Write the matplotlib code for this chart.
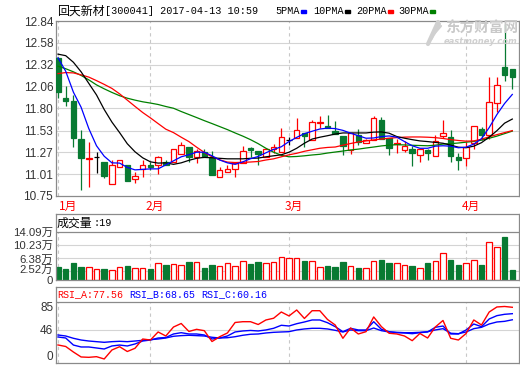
import matplotlib
matplotlib.use("Agg")
import matplotlib.pyplot as plt
from matplotlib.patches import Rectangle
from matplotlib.transforms import ScaledTranslation

# data
# ====================================
stock = "回天新材"
stamp = "[300041] 2017-04-13 10:59"
months = ["1月", "2月", "3月", "4月"]
month_idx = [0, 12, 30, 53]

open_ = [12.40, 11.915, 11.88, 11.43, 11.195, 11.215, 11.155, 10.89, 11.095, 11.12,
         10.957, 11.074, 11.125, 11.12, 11.155, 11.162, 11.25, 11.335, 11.215, 11.275,
         11.215, 10.982, 11.042, 11.074, 11.143, 11.32, 11.282, 11.215, 11.315, 11.27,
         11.414, 11.443, 11.503, 11.414, 11.625, 11.59, 11.523, 11.47, 11.302, 11.483,
         11.383, 11.423, 11.663, 11.443, 11.375, 11.302, 11.31, 11.243, 11.302, 11.23,
         11.47, 11.455, 11.215, 11.202, 11.383, 11.555, 11.483, 11.863, 12.296, 12.263]
high = [12.41, 12.06, 11.96, 11.54, 11.395, 11.27, 11.16, 11.18, 11.18, 11.12,
        11.04, 11.18, 11.16, 11.23, 11.18, 11.31, 11.395, 11.335, 11.31, 11.31,
        11.282, 11.10, 11.12, 11.162, 11.342, 11.335, 11.29, 11.32, 11.375, 11.563,
        11.45, 11.683, 11.503, 11.655, 11.71, 11.723, 11.643, 11.47, 11.503, 11.551,
        11.43, 11.70, 11.69, 11.443, 11.43, 11.402, 11.342, 11.31, 11.31, 11.483,
        11.663, 11.543, 11.263, 11.39, 11.59, 11.575, 12.176, 12.176, 12.804, 12.263]
low = [11.92, 11.82, 11.34, 10.82, 10.86, 11.03, 10.96, 10.89, 11.095, 10.93,
       10.91, 10.98, 11.06, 11.015, 11.12, 11.162, 11.25, 11.16, 11.143, 11.22,
       11.0, 10.982, 11.042, 10.98, 11.143, 11.215, 11.122, 11.215, 11.263, 11.27,
       11.36, 11.443, 11.33, 11.414, 11.563, 11.558, 11.491, 11.234, 11.25, 11.362,
       11.383, 11.423, 11.43, 11.243, 11.26, 11.27, 11.114, 11.162, 11.18, 11.23,
       11.443, 11.162, 11.062, 11.11, 11.31, 11.423, 11.43, 11.75, 12.123, 12.03]
close = [11.99, 11.88, 11.44, 11.20, 11.205, 11.215, 10.99, 11.12, 11.18, 10.935,
         10.99, 11.122, 11.095, 11.215, 11.126, 11.31, 11.355, 11.215, 11.283, 11.22,
         11.002, 11.062, 11.07, 11.15, 11.29, 11.30, 11.25, 11.31, 11.33, 11.455,
         11.414, 11.535, 11.462, 11.63, 11.635, 11.558, 11.491, 11.342, 11.503, 11.39,
         11.423, 11.683, 11.43, 11.323, 11.385, 11.35, 11.263, 11.31, 11.263, 11.402,
         11.503, 11.222, 11.183, 11.33, 11.59, 11.483, 11.87, 12.08, 12.191, 12.176]

ma5 = [12.40, 12.24, 11.99, 11.81, 11.555, 11.35, 11.225, 11.146, 11.143, 11.092,
       11.062, 11.068, 11.074, 11.074, 11.122, 11.17, 11.218, 11.243, 11.273, 11.273,
       11.23, 11.18, 11.146, 11.128, 11.158, 11.195, 11.222, 11.266, 11.306, 11.338,
       11.40, 11.45, 11.495, 11.523, 11.55, 11.56, 11.555, 11.534, 11.50, 11.47,
       11.44, 11.443, 11.46, 11.467, 11.453, 11.40, 11.35, 11.32, 11.32, 11.345,
       11.35, 11.345, 11.326, 11.333, 11.37, 11.435, 11.567, 11.723, 11.855, 11.963]
ma10 = [12.444, 12.426, 12.347, 12.233, 12.095, 11.957, 11.783, 11.633, 11.507, 11.374,
        11.278, 11.206, 11.158, 11.143, 11.146, 11.128, 11.146, 11.176, 11.20, 11.212,
        11.206, 11.20, 11.194, 11.194, 11.194, 11.20, 11.203, 11.218, 11.23, 11.242,
        11.273, 11.32, 11.38, 11.43, 11.452, 11.47, 11.49, 11.503, 11.503, 11.503,
        11.503, 11.513, 11.515, 11.50, 11.46, 11.44, 11.423, 11.408, 11.40, 11.39,
        11.38, 11.357, 11.333, 11.327, 11.345, 11.387, 11.453, 11.53, 11.62, 11.669]
ma20 = [12.212, 12.224, 12.22, 12.197, 12.17, 12.128, 12.083, 12.035, 11.97, 11.895,
        11.82, 11.747, 11.683, 11.615, 11.548, 11.507, 11.452, 11.40, 11.333, 11.27,
        11.218, 11.182, 11.155, 11.15, 11.152, 11.156, 11.162, 11.18, 11.194, 11.218,
        11.242, 11.26, 11.284, 11.302, 11.32, 11.33, 11.335, 11.357, 11.377, 11.395,
        11.408, 11.42, 11.43, 11.44, 11.447, 11.453, 11.455, 11.455, 11.452, 11.447,
        11.437, 11.423, 11.413, 11.405, 11.408, 11.428, 11.458, 11.483, 11.507, 11.531]
ma30 = [12.30, 12.27, 12.233, 12.19, 12.137, 12.077, 12.03, 11.987, 11.948, 11.918,
        11.895, 11.875, 11.86, 11.843, 11.819, 11.798, 11.759, 11.723, 11.687, 11.65,
        11.615, 11.579, 11.543, 11.503, 11.465, 11.423, 11.375, 11.32, 11.273, 11.237,
        11.218, 11.222, 11.23, 11.24, 11.248, 11.263, 11.275, 11.287, 11.30, 11.31,
        11.323, 11.335, 11.348, 11.357, 11.363, 11.36, 11.356, 11.353, 11.35, 11.357,
        11.37, 11.375, 11.383, 11.393, 11.402, 11.417, 11.44, 11.465, 11.495, 11.525]

# volume in 万 (10k)
volume = [3.9, 3.25, 5.1, 3.9, 3.75, 3.25, 3.25, 2.95, 3.75, 4.1,
          3.45, 3.45, 3.25, 4.9, 4.4, 4.7, 4.4, 5.3, 5.3, 3.55,
          4.4, 4.0, 4.9, 4.1, 5.5, 4.7, 5.3, 4.9, 5.3, 6.7,
          6.4, 6.4, 5.6, 5.5, 3.75, 4.1, 3.85, 5.3, 4.0, 3.55,
          3.45, 5.5, 5.9, 5.1, 5.1, 4.4, 4.1, 3.45, 5.1, 5.5,
          8.0, 5.9, 4.4, 5.0, 5.8, 4.4, 11.2, 9.75, 12.7, 3.05]

rsi_a = [25.1, 23.0, 15.3, 8.4, 7.9, 8.8, 5.6, 18.1, 22.7, 16.0,
         20.5, 33.4, 32.0, 43.2, 37.6, 50.1, 55.0, 43.9, 46.9, 45.0,
         29.9, 36.6, 41.8, 56.4, 57.5, 57.5, 53.6, 59.9, 62.3, 71.0,
         65.5, 73.8, 62.0, 72.8, 72.8, 60.6, 52.9, 34.4, 48.7, 40.4,
         43.6, 64.1, 50.6, 41.4, 40.4, 37.6, 31.1, 41.1, 34.8, 50.1,
         59.2, 34.4, 32.0, 41.1, 59.9, 52.9, 71.0, 78.0, 78.7, 77.56]
rsi_b = [36.2, 34.8, 25.0, 22.3, 22.3, 20.9, 19.5, 23.7, 25.0, 23.7,
         26.5, 30.6, 32.0, 34.8, 35.5, 40.4, 42.2, 40.4, 40.4, 39.0,
         33.4, 34.8, 37.6, 43.2, 44.6, 45.3, 44.6, 46.0, 48.3, 52.5,
         51.5, 54.7, 57.1, 59.9, 59.9, 56.1, 50.6, 43.6, 48.3, 46.0,
         46.0, 57.5, 46.9, 43.6, 42.2, 41.8, 40.8, 42.2, 43.2, 49.7,
         51.5, 40.4, 40.4, 46.0, 54.3, 50.6, 61.3, 65.9, 67.8, 68.65]
rsi_c = [39.0, 37.6, 34.4, 32.0, 30.6, 29.7, 28.8, 29.7, 30.2, 29.7,
         30.6, 31.6, 32.5, 33.4, 34.8, 37.2, 38.1, 38.6, 38.1, 37.6,
         35.8, 34.8, 35.2, 36.6, 38.6, 40.0, 40.4, 41.8, 42.7, 43.2,
         43.6, 46.0, 47.4, 48.3, 48.3, 47.4, 45.5, 43.2, 46.0, 45.0,
         45.0, 48.7, 45.0, 43.2, 42.7, 42.2, 42.2, 42.7, 43.6, 46.0,
         47.8, 41.4, 40.8, 43.2, 47.8, 49.7, 54.3, 57.1, 58.0, 60.16]

price_ticks = [10.75, 11.01, 11.27, 11.53, 11.80, 12.06, 12.32, 12.58, 12.84]
vol_ticks = [0, 2.52, 6.38, 10.23, 14.09]
rsi_ticks = [0, 46, 85]
last_vol = "19"
ma_names = ["5PMA", "10PMA", "20PMA", "30PMA"]

# style
# =====
RED, GREEN, BLUE, MAGREEN = "#ff0000", "#087a32", "#0000ff", "#008000"
FRAME, GRID, VGRID = "#8a8a8a", "#d4d4d4", "#c8c8c8"
TXT = "#333333"
FONT = ["Liberation Sans", "Noto Sans CJK SC"]
CJK = ["Noto Sans CJK SC", "DejaVu Sans"]
MONO = ["Liberation Mono", "DejaVu Sans Mono"]
W, H = 520, 365
BODY = 0.72
XLIM = (-0.26, 59.87)

fig = plt.figure(figsize=(W / 100, H / 100), dpi=100)


def px_axes(left, top, right, bottom):
    return fig.add_axes([left / W, 1 - bottom / H, (right - left) / W,
                         (bottom - top) / H])


def frame(ax):
    for s in ax.spines.values():
        s.set_color(FRAME); s.set_linewidth(0.9)
    ax.tick_params(length=0, labelsize=8.5, labelcolor=TXT, pad=2)
    ax.set_xticks([])
    ax.set_xlim(*XLIM)
    for lab in ax.get_yticklabels():
        lab.set_family(FONT)


def figtext(x, y, s, **kw):
    fig.text(x / W, 1 - y / H, s, va="center", **kw)


# price panel
# ===========
ax = px_axes(56, 21, 519, 196)
ax.set_ylim(price_ticks[0], price_ticks[-1])
ax.set_yticks(price_ticks)
ax.set_yticklabels([f"{t:.2f}" for t in price_ticks])
for t in price_ticks[1:-1]:
    ax.axhline(t, color=GRID, lw=0.8, zorder=0)
for m in month_idx:
    ax.axvline(m, color=VGRID, lw=0.8, ls=(0, (3, 3)), zorder=0)

for i in range(len(close)):
    o, h, l, c = open_[i], high[i], low[i], close[i]
    col = RED if c > o else (GREEN if c < o else "black")
    ax.vlines(i, l, h, color=col, lw=0.9, zorder=2)
    face = "white" if c > o else col
    ax.add_patch(Rectangle((i - BODY / 2, min(o, c)), BODY, max(abs(c - o), 0.001),
                           facecolor=face, edgecolor=col, lw=0.9, zorder=3))

xs = range(len(close))
ax.plot(xs, ma30, color=MAGREEN, lw=0.9, zorder=4)
ax.plot(xs, ma20, color=RED, lw=0.9, zorder=4)
ax.plot(xs, ma10, color="black", lw=0.9, zorder=4)
ax.plot(xs, ma5, color=BLUE, lw=0.9, zorder=4)
frame(ax)

for m, name in zip(month_idx, months):
    dx = 1 if m == 0 else -4.5
    ax.annotate(name, (m, 0), xycoords=("data", "axes fraction"),
                xytext=(dx * 0.72, -10 * 0.72), textcoords="offset points",
                ha="left", va="center", color=RED, fontsize=8.5, family=CJK)

# volume panel
# ============
av = px_axes(56, 214, 519, 280)
av.set_ylim(0, 19.5)
av.set_yticks(vol_ticks)
av.set_yticklabels(["0"] + [f"{t:.2f}万" for t in vol_ticks[1:]])
for t in vol_ticks[1:-1]:
    av.axhline(t, color=GRID, lw=0.8, zorder=0)
av.axhline(vol_ticks[-1], color=FRAME, lw=0.9, zorder=1)
for m in month_idx:
    av.vlines(m, 0, vol_ticks[-1], color=VGRID, lw=0.8, linestyles=(0, (3, 3)), zorder=0)
up = [c >= o for o, c in zip(open_, close)]
av.bar(xs, volume, width=BODY, color=["white" if u else GREEN for u in up],
       edgecolor=[RED if u else GREEN for u in up], lw=0.9, zorder=2)
frame(av)
for lab in av.get_yticklabels():
    lab.set_fontsize(8.2)
lab = av.get_yticklabels()[1]
lab.set_transform(lab.get_transform() + ScaledTranslation(0, 2.5 / 100, fig.dpi_scale_trans))

# rsi panel
# =========
ar = px_axes(56, 287, 519, 363)
ar.set_ylim(0, 105.8)
ar.set_yticks(rsi_ticks)
ar.set_yticklabels([str(t) for t in rsi_ticks])
ar.axhline(46, color=GRID, lw=0.8, zorder=0)
ar.axhline(85, color=FRAME, lw=0.9, zorder=1)
for m in month_idx:
    ar.vlines(m, 0, 85, color=VGRID, lw=0.8, linestyles=(0, (3, 3)), zorder=0)
ar.plot(xs, rsi_c, color=BLUE, lw=1.0, zorder=3)
ar.plot(xs, rsi_b, color=BLUE, lw=1.0, zorder=3)
ar.plot(xs, rsi_a, color=RED, lw=1.0, zorder=4)
frame(ar)
labs = ar.get_yticklabels()
labs[0].set_va("bottom"); labs[2].set_va("top")

# header texts
# ============
figtext(57, 11, stock, color="black", fontsize=8.6, family=CJK)
figtext(105, 11, stamp, color="black", fontsize=7.3, family=MONO)
legend_x = [275, 313, 356, 398]
for name, x, col in zip(ma_names, legend_x, [BLUE, "black", RED, MAGREEN]):
    figtext(x, 11, name, color="black", fontsize=7.3, family=MONO)
    w = 6 * len(name) + 2
    fig.add_artist(Rectangle(((x + w) / W, 1 - 12.5 / H), 5 / W, 3 / H,
                             transform=fig.transFigure, color=col))

figtext(57, 223, "成交量", color="black", fontsize=8.6, family=CJK)
figtext(94, 223, f":{last_vol}", color="black", fontsize=7.3, family=MONO)
figtext(57, 294, f"RSI_A:{rsi_a[-1]:.2f}", color=RED, fontsize=7.2, family=MONO)
figtext(129, 294, f"RSI_B:{rsi_b[-1]:.2f}", color=BLUE, fontsize=7.2, family=MONO)
figtext(201, 294, f"RSI_C:{rsi_c[-1]:.2f}", color=BLUE, fontsize=7.2, family=MONO)

# watermark
figtext(518, 28, "东方财富网", color="#c9c9c9", fontsize=10.5, weight="bold",
        ha="right", family=CJK)
figtext(517, 41, "eastmoney.com", color="#cfcfcf", fontsize=6.0, weight="bold",
        style="italic", ha="right")
for dy, lw in [(0, 3.0), (5, 2.2), (10, 1.6)]:
    fig.add_artist(plt.Line2D([(428 + dy * 0.6) / W, (438 + dy * 0.3) / W],
                              [1 - (44 - dy) / H, 1 - (22 + dy * 0.4) / H],
                              transform=fig.transFigure, color="#d0d0d0", lw=lw,
                              solid_capstyle="round"))

fig.savefig("out.png", dpi=100)
